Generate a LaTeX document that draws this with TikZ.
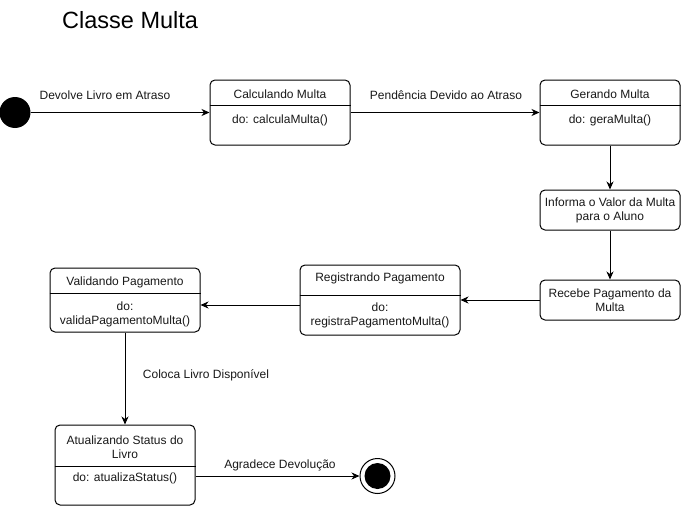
\documentclass[tikz,border=0pt]{standalone}
\usepackage{fontspec}
\setmainfont{Liberation Sans}
\usetikzlibrary{arrows.meta}
\begin{document}
\begin{tikzpicture}[x=1pt,y=-1pt,
  font=\fontsize{12}{14}\selectfont,
  state/.style={draw, rounded corners=5pt, line width=1pt, inner sep=0, rectangle},
  arr/.style={-{Stealth[length=8pt,width=7pt,inset=2.5pt]}, line width=1pt},
  txt/.style={inner sep=0, align=center, text=black!90}]
\useasboundingbox (0,0) rectangle (681,506);
\fill[white] (0,0) rectangle (681,506);

\node[anchor=west, inner sep=0, font=\fontsize{23.5}{27}\selectfont] (title) at (62,20) {Classe Multa};

% initial and final
\node[circle, fill=black, minimum size=31pt, inner sep=0] (init) at (15,112.5) {};
\node[circle, draw, line width=1pt, minimum size=35pt, inner sep=0] (fin) at (377.5,476) {};
\fill (fin.center) circle (13pt);

% states
\node[state, minimum width=140pt, minimum height=65pt] (calc) at (280,112.5) {};
\draw[line width=1pt] (calc.west |- 0,105) -- (calc.east |- 0,105);
\node[txt] (calct) at (280,94) {Calculando Multa};
\node[txt] (calcb) at (280,120) {do: calculaMulta()};

\node[state, minimum width=140pt, minimum height=65pt] (ger) at (610,112.5) {};
\draw[line width=1pt] (ger.west |- 0,105) -- (ger.east |- 0,105);
\node[txt] (gert) at (610,94) {Gerando Multa};
\node[txt] (gerb) at (610,120) {do: geraMulta()};

\node[state, minimum width=140pt, minimum height=40pt] (inf) at (610,210) {};
\node[txt] (inft) at (610,210) {Informa o Valor da Multa\\para o Aluno};

\node[state, minimum width=140pt, minimum height=40pt] (rec) at (610,300) {};
\node[txt] (rect) at (610,300) {Recebe Pagamento da\\Multa};

\node[state, minimum width=160pt, minimum height=70pt] (reg) at (380,300) {};
\draw[line width=1pt] (reg.west |- 0,295) -- (reg.east |- 0,295);
\node[txt] (regt) at (380,278) {Registrando Pagamento};
\node[txt] (regb) at (380,315.5) {do:\\registraPagamentoMulta()};

\node[state, minimum width=150pt, minimum height=64pt] (val) at (125,300) {};
\draw[line width=1pt] (val.west |- 0,293) -- (val.east |- 0,293);
\node[txt] (valt) at (125,282) {Validando Pagamento};
\node[txt] (valb) at (125,314.5) {do:\\validaPagamentoMulta()};

\node[state, minimum width=140pt, minimum height=80pt] (atu) at (125,465) {};
\draw[line width=1pt] (atu.west |- 0,466) -- (atu.east |- 0,466);
\node[txt] (atut) at (125,447.5) {Atualizando Status do\\Livro};
\node[txt] (atub) at (125,478) {do: atualizaStatus()};

% connectors
\draw[arr] (init) -- (calc.west);
\draw[arr] (calc.east) -- (ger.west);
\draw[arr] (ger.south) -- (inf.north);
\draw[arr] (inf.south) -- (rec.north);
\draw[arr] (rec.west) -- (reg.east);
\draw[arr] ([yshift=-5pt]reg.west) -- ([yshift=-5pt]val.east);
\draw[arr] (val.south) -- (atu.north);
\draw[arr] ([yshift=-11pt]atu.east) -- (fin.west);

% labels
\node[txt] (l1) at (105,95) {Devolve Livro em Atraso};
\node[txt] (l2) at (446,95) {Pendência Devido ao Atraso};
\node[txt] (l3) at (206,375) {Coloca Livro Disponível};
\node[txt] (l4) at (280,465) {Agradece Devolução};
\end{tikzpicture}
\end{document}
